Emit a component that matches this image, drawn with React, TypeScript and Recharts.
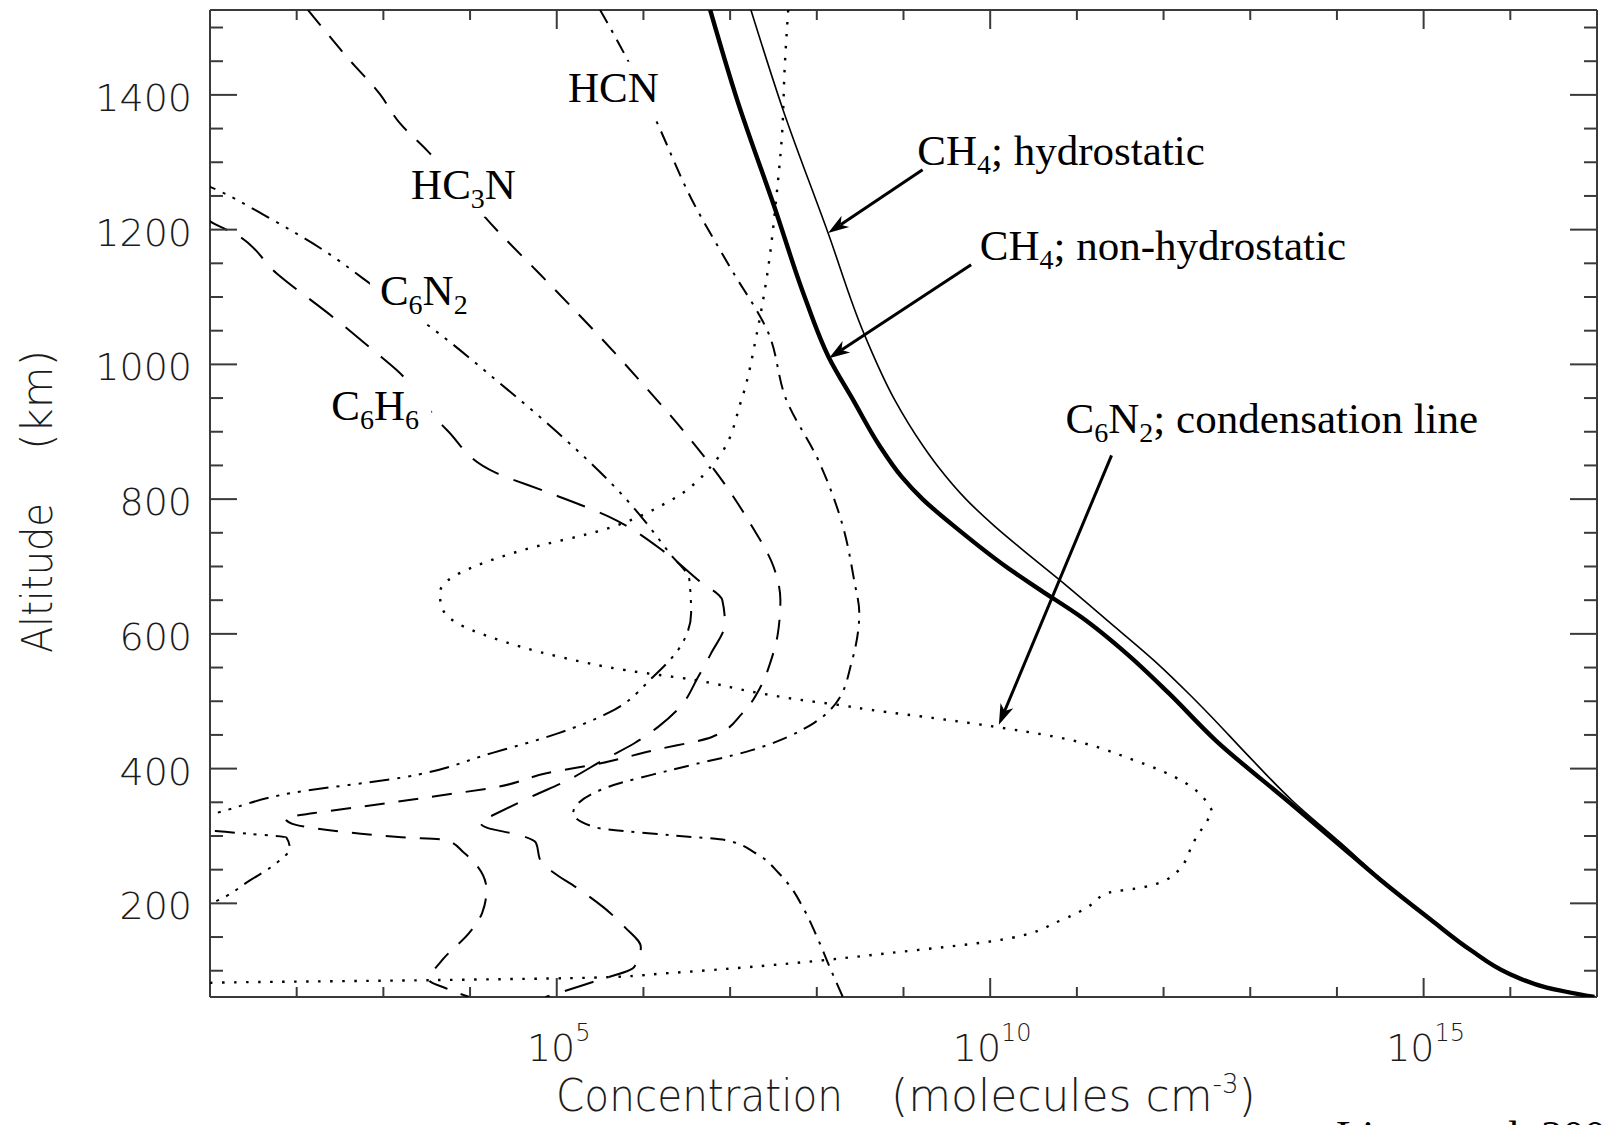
import React from 'react'
import { ScatterChart, Scatter, XAxis, YAxis, ReferenceLine, ReferenceDot } from 'recharts'

// Each profile: [altitude (km), log10 number density (molecules cm^-3)], top to bottom
type Profile = [number, number][]

const CH4_NONHYDRO: Profile = [
  [1526, 6.77], [1393, 7.08], [1234, 7.51], [1100, 7.86], [1010, 8.14], [947, 8.42],
  [880, 8.72], [833, 8.98], [800, 9.22], [754, 9.64], [700, 10.18], [665, 10.58],
  [625, 11.05], [570, 11.58], [512, 12.06], [442, 12.6], [350, 13.45], [290, 14.0],
  [235, 14.5], [176, 15.08], [130, 15.55], [96, 15.98], [75, 16.42], [61, 16.97],
]
const CH4_HYDRO: Profile = [
  [1526, 7.24], [1378, 7.61], [1195, 8.13], [1047, 8.54], [947, 8.9], [880, 9.22],
  [848, 9.4], [800, 9.72], [760, 10.05], [720, 10.42], [680, 10.8], [620, 11.35],
  [557, 11.92], [510, 12.3], [480, 12.53], [420, 12.97], [353, 13.48], [290, 14.04],
  [235, 14.52], [176, 15.09], [130, 15.56], [96, 15.98], [75, 16.42], [61, 16.97],
]
const HCN: Profile = [
  [1526, 5.5], [1456, 5.8], [1358, 6.16], [1244, 6.56], [1144, 7.0], [1047, 7.44],
  [947, 7.65], [857, 8.02], [760, 8.3], [680, 8.43], [631, 8.49], [557, 8.4],
  [497, 8.22], [468, 7.97], [427, 7.24], [398, 6.32], [373, 5.6], [334, 5.19],
  [313, 5.44], [301, 6.32], [294, 6.94], [274, 7.3], [245, 7.56], [224, 7.7],
  [194, 7.84], [145, 8.02], [105, 8.15], [61, 8.3],
]
const HC3N: Profile = [
  [1526, 2.13], [1504, 2.27], [1456, 2.58], [1401, 2.96], [1358, 3.19], [1318, 3.5],
  [1199, 4.31], [1136, 4.79], [1076, 5.24], [1017, 5.67], [977, 5.95], [903, 6.45],
  [820, 6.95], [760, 7.25], [700, 7.5], [650, 7.58], [600, 7.55], [560, 7.47],
  [521, 7.35], [482, 7.14], [447, 6.79], [427, 6.11], [408, 5.51], [393, 4.88],
  [373, 4.32], [358, 3.54], [343, 2.72], [334, 2.2], [326, 1.87], [318, 1.95],
  [312, 2.18], [304, 2.69], [298, 3.21], [294, 3.72], [275, 3.93], [254, 4.09],
  [220, 4.19], [186, 4.14], [156, 3.99], [116, 3.68], [86, 3.53], [74, 3.72], [61, 3.99],
]
const C6N2: Profile = [
  [1272, 0.85], [1259, 1.08], [1219, 1.66], [1160, 2.42], [1128, 2.76], [1041, 3.69],
  [981, 4.26], [900, 5.0], [800, 5.8], [720, 6.3], [680, 6.53], [631, 6.55],
  [580, 6.42], [536, 6.11], [483, 5.6], [453, 5.03], [423, 4.25], [387, 3.23],
  [364, 1.95], [334, 1.07], [322, 0.7], [312, 0.8], [307, 1.1], [303, 1.46],
  [298, 1.88], [282, 1.92], [260, 1.77], [234, 1.46], [202, 1.05], [190, 0.8],
]
const C6H6: Profile = [
  [1222, 0.9], [1210, 1.03], [1195, 1.27], [1135, 1.77], [1070, 2.42], [1017, 2.92],
  [992, 3.15], [903, 3.73], [839, 4.3], [810, 4.9], [774, 5.6], [721, 6.25],
  [680, 6.63], [650, 6.91], [616, 6.94], [571, 6.78], [536, 6.63], [491, 6.42],
  [462, 6.17], [438, 5.9], [413, 5.54], [383, 5.13], [359, 4.72], [330, 4.25],
  [321, 4.11], [312, 4.2], [302, 4.55], [290, 4.76], [264, 4.81], [245, 4.97],
  [224, 5.22], [194, 5.54], [164, 5.79], [135, 5.97], [105, 5.89], [86, 5.48], [61, 4.87],
]
const C6N2_CONDENSATION: Profile = [
  [1526, 7.67], [1442, 7.63], [1344, 7.6], [1244, 7.53], [1144, 7.44], [1047, 7.31],
  [947, 7.13], [858, 6.84], [797, 6.3], [755, 5.55], [724, 4.6], [700, 4.05],
  [680, 3.75], [660, 3.65], [635, 3.69], [616, 3.85], [595, 4.24], [566, 5.03],
  [546, 5.8], [532, 6.57], [512, 7.34], [502, 7.81], [494, 8.28], [487, 8.63],
  [475, 9.35], [462, 10.06], [447, 10.76], [413, 11.65], [379, 12.25], [350, 12.5],
  [334, 12.56], [324, 12.51], [294, 12.36], [245, 12.14], [224, 11.77], [215, 11.34],
  [200, 11.19], [175, 10.82], [145, 10.08], [126, 8.82], [111, 7.71], [96, 6.24],
  [90, 5.5], [86, 3.54], [82, 1.0], [80, 0.8],
]

const X_TICKS = [2, 3, 4, 5, 6, 7, 8, 9, 10, 11, 12, 13, 14, 15, 16]
const X_LABELED = [5, 10, 15]
const Y_TICKS = [
  100, 150, 200, 250, 300, 350, 400, 450, 500, 550, 600, 650, 700, 750, 800,
  850, 900, 950, 1000, 1050, 1100, 1150, 1200, 1250, 1300, 1350, 1400, 1450, 1500,
]
const Y_LABELED = [200, 400, 600, 800, 1000, 1200, 1400]

const X_DOMAIN: [number, number] = [1, 17]
const Y_DOMAIN: [number, number] = [61, 1526]

const WIDTH = 1604
const HEIGHT = 1125
const PLOT_LEFT = 210
const PLOT_RIGHT = 1597
const PLOT_TOP = 10
const PLOT_BOTTOM = 997

const FRAME = '#3a3a3a'
const TEXT = '#1c1c1c'
const SANS = '"DejaVu Sans", sans-serif'
const SERIF = '"Liberation Serif", serif'

const SERIES = [
  { key: 'c6n2-cond', data: C6N2_CONDENSATION, width: 2.4, dash: '2.5 9.5' },
  { key: 'c6h6', data: C6H6, width: 2, dash: '30 16' },
  { key: 'c6n2', data: C6N2, width: 2, dash: '20 8 3 8 3 8 3 8' },
  { key: 'hc3n', data: HC3N, width: 2, dash: '20 14' },
  { key: 'hcn', data: HCN, width: 2, dash: '15 8 3 8' },
  { key: 'ch4-hydro', data: CH4_HYDRO, width: 1.6, dash: undefined },
  { key: 'ch4-nonhydro', data: CH4_NONHYDRO, width: 4.4, dash: undefined },
]

// label anchors (start of baseline) in data coordinates; box = width of the white backing
const NOTES = [
  { c: 5.13, alt: 1390, text: 'HCN', box: 92 },
  { c: 3.32, alt: 1246, text: 'HC_3N', box: 106 },
  { c: 2.96, alt: 1088, text: 'C_6N_2', box: 90 },
  { c: 2.4, alt: 918, text: 'C_6H_6', box: 90 },
  { c: 9.16, alt: 1296, text: 'CH_4; hydrostatic', box: 0 },
  { c: 9.88, alt: 1155, text: 'CH_4; non-hydrostatic', box: 0 },
  { c: 10.87, alt: 898, text: 'C_6N_2; condensation line', box: 0 },
]

const ARROWS = [
  { from: { x: 9.22, y: 1289 }, to: { x: 8.13, y: 1195 } },
  { from: { x: 9.78, y: 1148 }, to: { x: 8.14, y: 1009 } },
  { from: { x: 11.4, y: 865 }, to: { x: 10.1, y: 465 } },
]

const toPoints = (p: Profile) => p.map(([alt, c]) => ({ alt, c }))

const NoDot = () => <g />

function XTick(props: any) {
  const { x, payload } = props
  const v = payload.value as number
  const major = X_LABELED.includes(v)
  const len = major ? 19 : 10
  return (
    <g>
      <line x1={x} y1={PLOT_BOTTOM} x2={x} y2={PLOT_BOTTOM - len} stroke={FRAME} strokeWidth={2} />
      <line x1={x} y1={PLOT_TOP} x2={x} y2={PLOT_TOP + len} stroke={FRAME} strokeWidth={2} />
      {major && (
        <text x={x + 2} y={PLOT_BOTTOM + 64} textAnchor="middle" fill={TEXT} fontSize={38} fontWeight={200} fontFamily={SANS}>
          10
          <tspan fontSize={24} dy={-20}>
            {v}
          </tspan>
        </text>
      )}
    </g>
  )
}

function YTick(props: any) {
  const { y, payload } = props
  const v = payload.value as number
  const major = Y_LABELED.includes(v)
  const len = major ? 27 : 13
  return (
    <g>
      <line x1={PLOT_LEFT} y1={y} x2={PLOT_LEFT + len} y2={y} stroke={FRAME} strokeWidth={2} />
      <line x1={PLOT_RIGHT} y1={y} x2={PLOT_RIGHT - len} y2={y} stroke={FRAME} strokeWidth={2} />
      {major && (
        <text x={PLOT_LEFT - 18} y={y + 16} textAnchor="end" fill={TEXT} fontSize={38} fontWeight={200} fontFamily={SANS}>
          {v}
        </text>
      )}
    </g>
  )
}

function XTitle() {
  return (
    <g fill={TEXT} fontFamily={SANS} fontSize={44} fontWeight={200}>
      <text x={556} y={1111} textLength={287} lengthAdjust="spacingAndGlyphs">
        Concentration
      </text>
      <text x={891} y={1111}>
        (molecules cm<tspan fontSize={26} dy={-18}>-3</tspan>
        <tspan dy={18}>)</tspan>
      </text>
      <text x={1336} y={1150} fill="#000" fontFamily={SERIF} fontWeight={400} fontSize={43}>
        Liang et al. 2007
      </text>
    </g>
  )
}

function YTitle() {
  return (
    <g fill={TEXT} fontFamily={SANS} fontSize={43} fontWeight={200} transform="translate(52,653) rotate(-90)">
      <text x={0} y={0} textLength={150} lengthAdjust="spacingAndGlyphs">
        Altitude
      </text>
      <text x={203} y={0}>
        (km)
      </text>
    </g>
  )
}

// text with "_n" marking a subscript digit
function Chem({ cx, cy, text, box }: { cx: number; cy: number; text: string; box: number }) {
  const tokens = text.split(/(_\d)/).filter(Boolean)
  let low = false
  return (
    <g>
      {box > 0 && <rect x={cx - 10} y={cy - 40} width={box + 20} height={58} fill="#fff" />}
      <text x={cx} y={cy} fontFamily={SERIF} fontSize={43} fill="#000">
        {tokens.map((t, i) => {
          if (t.startsWith('_')) {
            const dy = low ? 0 : 9
            low = true
            return (
              <tspan key={i} fontSize={28} dy={dy}>
                {t.slice(1)}
              </tspan>
            )
          }
          const dy = low ? -9 : 0
          low = false
          return (
            <tspan key={i} dy={dy}>
              {t}
            </tspan>
          )
        })}
      </text>
    </g>
  )
}

function Arrow(props: any) {
  const { x1, y1, x2, y2 } = props
  const a = Math.atan2(y2 - y1, x2 - x1)
  const head = 22
  const spread = 0.32
  const bx = x2 - 15 * Math.cos(a)
  const by = y2 - 15 * Math.sin(a)
  const p1 = [x2 - head * Math.cos(a - spread), y2 - head * Math.sin(a - spread)]
  const p2 = [x2 - head * Math.cos(a + spread), y2 - head * Math.sin(a + spread)]
  return (
    <g>
      <line x1={x1} y1={y1} x2={bx} y2={by} stroke="#000" strokeWidth={3} />
      <polygon points={`${x2},${y2} ${p1[0]},${p1[1]} ${bx},${by} ${p2[0]},${p2[1]}`} fill="#000" />
    </g>
  )
}

export default function App() {
  return (
    <div style={{ position: 'absolute', left: 0, top: 0, width: WIDTH, height: HEIGHT, background: '#fff' }}>
      <ScatterChart width={WIDTH} height={HEIGHT} margin={{ top: PLOT_TOP, right: WIDTH - PLOT_RIGHT, bottom: 0, left: 0 }}>
        <XAxis
          type="number"
          dataKey="c"
          domain={X_DOMAIN}
          allowDataOverflow
          ticks={X_TICKS}
          interval={0}
          tick={<XTick />}
          tickLine={false}
          tickSize={0}
          height={HEIGHT - PLOT_BOTTOM}
          axisLine={{ stroke: FRAME, strokeWidth: 2 }}
          label={<XTitle />}
        />
        <YAxis
          type="number"
          dataKey="alt"
          domain={Y_DOMAIN}
          allowDataOverflow
          ticks={Y_TICKS}
          interval={0}
          tick={<YTick />}
          tickLine={false}
          tickSize={0}
          width={PLOT_LEFT}
          axisLine={{ stroke: FRAME, strokeWidth: 2 }}
          label={<YTitle />}
        />
        <ReferenceLine y={Y_DOMAIN[1]} stroke={FRAME} strokeWidth={2} ifOverflow="visible" />
        <ReferenceLine x={X_DOMAIN[1]} stroke={FRAME} strokeWidth={2} ifOverflow="visible" />
        {SERIES.map((s) => (
          <Scatter
            key={s.key}
            data={toPoints(s.data)}
            fill="#000"
            line={{ stroke: '#000', strokeWidth: s.width, strokeDasharray: s.dash }}
            lineType="joint"
            lineJointType="monotoneY"
            shape={<NoDot />}
            isAnimationActive={false}
          />
        ))}
        {NOTES.map((n) => (
          <ReferenceDot
            key={n.text}
            x={n.c}
            y={n.alt}
            r={0}
            ifOverflow="visible"
            shape={(p: any) => <Chem cx={p.cx} cy={p.cy} text={n.text} box={n.box} />}
          />
        ))}
        {ARROWS.map((a, i) => (
          <ReferenceLine key={i} segment={[a.from, a.to]} ifOverflow="visible" shape={(p: any) => <Arrow {...p} />} />
        ))}
      </ScatterChart>
    </div>
  )
}
